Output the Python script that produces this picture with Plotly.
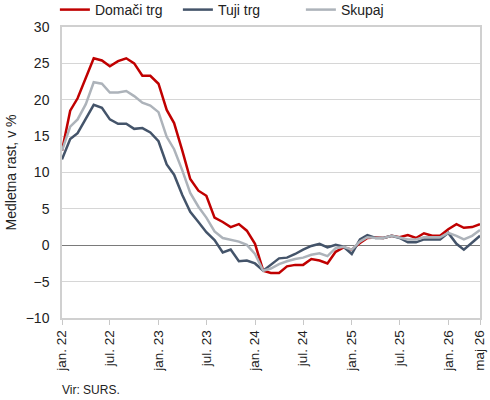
import plotly.graph_objects as go
import pandas as pd

months = pd.date_range("2022-01-01", "2026-05-01", freq="MS")

domaci = [13.0, 18.5, 20.2, 23.1, 25.7, 25.4, 24.6, 25.3, 25.7, 25.0, 23.3, 23.3, 22.2,
          18.6, 16.8, 13.0, 9.1, 7.5, 6.8,
          3.8, 3.2, 2.5, 2.9, 2.0, 0.2,
          -3.5, -3.8, -3.8, -2.9, -2.7, -2.7,
          -1.9, -2.1, -2.5, -0.9, -0.3, -0.6,
          0.3, 1.0, 1.05, 1.0, 1.3, 1.1,
          1.4, 1.0, 1.65, 1.3, 1.3, 2.2,
          2.9, 2.4, 2.5, 2.9]

tuji = [11.8, 14.6, 15.4, 17.3, 19.3, 18.9, 17.3, 16.7, 16.7, 16.0, 16.1, 15.5, 14.3,
        11.1, 9.7, 6.9, 4.6, 3.2, 1.8,
        0.7, -1.0, -0.6, -2.2, -2.1, -2.5,
        -3.5, -2.7, -1.8, -1.7, -1.2, -0.6,
        -0.1, 0.2, -0.3, 0.05, -0.2, -1.2,
        0.8, 1.4, 1.0, 1.0, 1.3, 1.0,
        0.4, 0.4, 0.8, 0.8, 0.8, 1.7,
        0.2, -0.6, 0.4, 1.3]

skupaj = [13.0, 16.3, 17.3, 19.4, 22.4, 22.2, 21.0, 21.0, 21.2, 20.5, 19.6, 19.2, 18.3,
          14.9, 13.2, 10.3, 7.2, 5.3, 3.8,
          1.9, 1.0, 0.8, 0.5, 0.05, -1.2,
          -3.5, -3.2, -2.6, -2.2, -1.9, -1.7,
          -1.3, -1.1, -1.5, -0.4, -0.2, -0.6,
          0.5, 1.1, 1.0, 1.0, 1.3, 1.1,
          0.8, 0.8, 1.1, 1.1, 1.1, 1.7,
          1.3, 0.8, 1.3, 2.1]

tick_dates = ["2022-01-01", "2022-07-01", "2023-01-01", "2023-07-01", "2024-01-01",
              "2024-07-01", "2025-01-01", "2025-07-01", "2026-01-01", "2026-05-01"]
tick_labels = ["jan. 22", "jul. 22", "jan. 23", "jul. 23", "jan. 24",
               "jul. 24", "jan. 25", "jul. 25", "jan. 26", "maj 26"]

FONT = "Liberation Sans"
fig = go.Figure()
fig.add_trace(go.Scatter(x=months, y=domaci, mode="lines", name="Domači trg",
                         line=dict(color="#C00000", width=2.5)))
fig.add_trace(go.Scatter(x=months, y=tuji, mode="lines", name="Tuji trg",
                         line=dict(color="#44546A", width=2.5)))
fig.add_trace(go.Scatter(x=months, y=skupaj, mode="lines", name="Skupaj",
                         line=dict(color="#ADB3BA", width=2.5)))

fig.update_layout(
    width=490, height=400,
    margin=dict(l=62, r=10, t=27, b=82, autoexpand=False),
    paper_bgcolor="white", plot_bgcolor="white",
    font=dict(family=FONT, size=14, color="#222222"),
    showlegend=True,
    legend=dict(orientation="h", xref="container", yref="container",
                x=0.112, y=0.975, xanchor="left", yanchor="middle",
                font=dict(size=14), itemwidth=30, tracegroupgap=0,
                entrywidth=78, entrywidthmode="pixels",
                bgcolor="rgba(0,0,0,0)"),
    xaxis=dict(range=["2022-01-01", "2026-05-01 00:01"], tickvals=tick_dates,
               ticktext=tick_labels,
               tickangle=-90, showgrid=False, showline=True, linecolor="#D0D0D0",
               linewidth=1.5, mirror=True, ticks="outside", ticklen=5,
               tickcolor="#C8C8C8", tickfont=dict(size=13.5), automargin=False),
    yaxis=dict(range=[-10, 30], dtick=5, showgrid=True, gridcolor="#D6D6D6",
               gridwidth=1.3, zeroline=True, zerolinecolor="#7A7A7A", zerolinewidth=1.3,
               showline=True, linecolor="#D0D0D0", linewidth=1.5, mirror=True,
               ticks="", tickfont=dict(size=14), ticklabelstandoff=8, automargin=False,
               title=dict(text="Medletna rast, v %", font=dict(size=14), standoff=6)),
    annotations=[dict(text="Vir: SURS.", xref="paper", yref="paper", x=-0.005, y=-0.215,
                      xanchor="left", yanchor="top", showarrow=False,
                      font=dict(size=12, color="#222222"))],
)

fig.write_html("out.html", config={"displayModeBar": False},
               post_script="document.body.style.margin='0';document.body.style.padding='0';")
